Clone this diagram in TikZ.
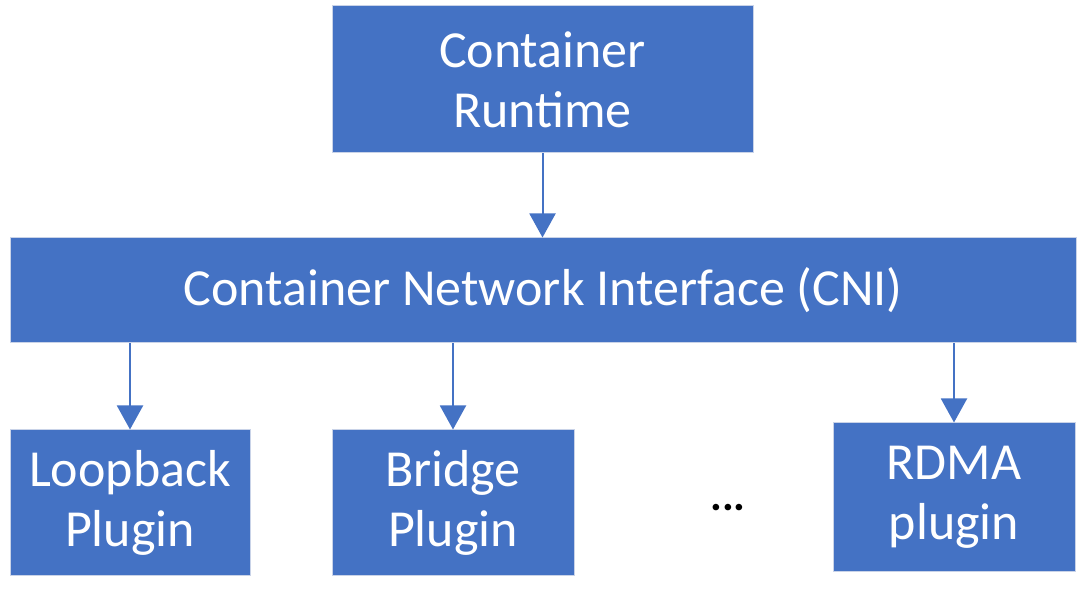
\documentclass[tikz,border=0pt]{standalone}
\usepackage{fontspec}
\setmainfont{Carlito}
\usetikzlibrary{arrows.meta}
\definecolor{boxblue}{HTML}{4472C4}
\definecolor{boxedge}{HTML}{C9D3E8}
\begin{document}
\begin{tikzpicture}[x=1pt,y=1pt,
  box/.style={draw=boxedge, line width=1pt, fill=boxblue, text=white, align=center,
    font=\fontsize{52}{60}\selectfont, inner sep=0pt},
  conn/.style={draw=boxblue, line width=2pt, -{Triangle[width=26pt,length=24pt]}}]
\useasboundingbox (0,0) rectangle (1080,591);
\node[box, minimum width=421pt, minimum height=147pt] (rt) at (542.5,511.5) {Container\\Runtime};
\node[box, minimum width=1066pt, minimum height=105pt] (cni) at (543,300.5) {Container Network Interface (CNI)};
\node[box, minimum width=240pt, minimum height=146pt] (lb) at (130,88) {Loopback\\Plugin};
\node[box, minimum width=242pt, minimum height=146pt] (br) at (453,88) {Bridge\\Plugin};
\node[box, minimum width=242pt, minimum height=149pt] (rd) at (954,93.5) {RDMA\\plugin};
\node[font=\fontsize{44}{44}\selectfont\bfseries, inner sep=0pt] (dots) at (728,83) {...};
\draw[conn] (rt.south) -- (cni.north -| rt.south);
\draw[conn] (cni.south -| lb.north) -- (lb.north);
\draw[conn] (cni.south -| br.north) -- (br.north);
\draw[conn] (cni.south -| rd.north) -- (rd.north);
\end{tikzpicture}
\end{document}
